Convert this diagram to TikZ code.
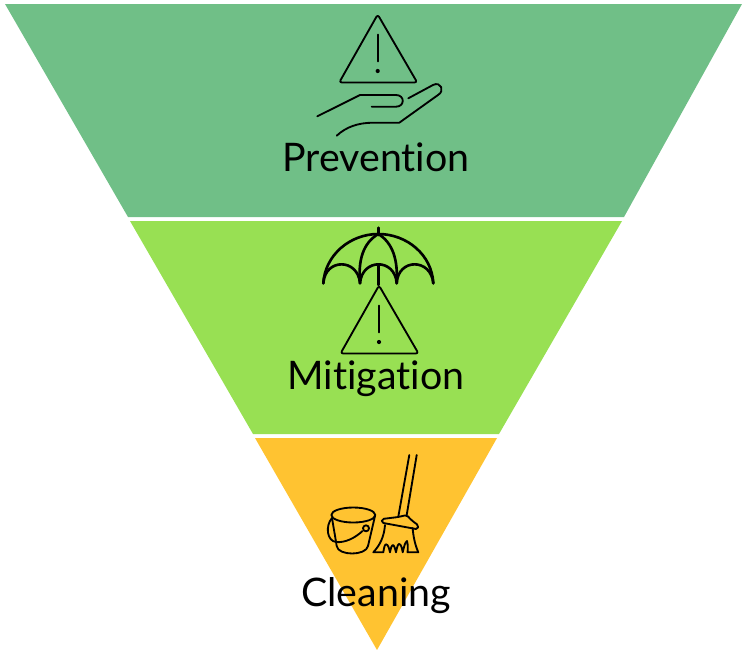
\documentclass[tikz,border=0pt]{standalone}
\usepackage{fontspec}
\setmainfont[Ligatures=NoCommon]{Lato}
\definecolor{preventgreen}{HTML}{70BF87}
\definecolor{mitigategreen}{HTML}{98E053}
\definecolor{cleanyellow}{HTML}{FFC331}

\begin{document}
\begin{tikzpicture}[
	x=0.02cm, y=-0.02cm,
	every node/.style={font=\fontsize{22.4}{26}\selectfont, text=black, anchor=base, inner sep=0pt},
	icon/.style={draw=black, line width=1.05pt, line cap=round, line join=round},
	iconthick/.style={icon, line width=1.5pt},
	warning/.pic={
		\draw[icon, rounded corners=1.5pt] (0,-3) -- (39.5,65) -- (-38.5,65) -- cycle;
		\draw[icon] (0,17) -- (0,44);
		\fill (0,53.5) circle (2.1);
	},
	]
	
	\useasboundingbox (0,0) rectangle (742,649);
	
	\fill[preventgreen] (5,4) -- (742,4) -- (624,217) -- (128,217) -- cycle;
	\fill[mitigategreen] (130,221) -- (622,221) -- (499,434) -- (253,434) -- cycle;
	\fill[cleanyellow] (255,438) -- (497,438) -- (377,650) -- cycle;
	
	% prevention icon
	\pic at (377.7,17.5) {warning};
	\draw[icon] (317.3,116.3) -- (360,95) -- (396,95) .. controls (405,95) and (405,106.7) .. (396,106.7) -- (371.7,106.7);
	\draw[icon] (408.3,98.3) -- (433,85) .. controls (441,81) and (445,91) .. (438,95) -- (399.3,122.7) -- (373.3,122.7) .. controls (358,122.7) and (346,127) .. (336.7,135.7);
	
	% mitigation icon
	\pic at (379,288.5) {warning};
	\draw[iconthick] (378.3,227.7) -- (378.3,235);
	\draw[iconthick] (323.3,283.3) .. controls (325,255) and (350,234) .. (378.3,234) .. controls (407,234) and (432,255) .. (433.3,283.3);
	\draw[iconthick] (323.3,283.3) .. controls (325,258) and (358,258) .. (360,283.3) .. controls (362,258) and (395,258) .. (396.7,283.3) .. controls (398,258) and (431,258) .. (433.3,283.3);
	\draw[iconthick] (360,283.3) .. controls (358,260) and (363,243) .. (378.3,234) .. controls (393,243) and (398,260) .. (396.7,283.3);
	\draw[iconthick] (378.3,265.7) -- (378.3,285);
	
	% cleaning icon
	\draw[icon] (353.3,515) ellipse (22 and 7.5);
	\draw[icon] (332,518) -- (336.7,546) .. controls (338,556) and (366,556) .. (368,546) -- (375,516);
	\draw[icon] (332,518) .. controls (325,526) and (327,541) .. (336,542) .. controls (345,543) and (355,538) .. (362.5,531);
	\draw[icon] (366,528.3) circle (3);
	\draw[icon] (409.3,455) -- (398.3,516.7);
	\draw[icon] (416.7,455) -- (406.7,515);
	\draw[icon, rounded corners=1pt] (381.7,522.7) -- (382,519) -- (398.3,517) -- (406.7,515) .. controls (411,520) and (415,523) .. (418.3,525) -- (417.7,529.3) -- cycle;
	\draw[icon] (385,525) .. controls (384,537) and (380,545) .. (373.3,552.3) -- (383.3,552.3) .. controls (384,547) and (385,544.3) .. (386,544.3) .. controls (388,544.3) and (389,548) .. (390,552.3) .. controls (391,547) and (392,545) .. (392.7,545) .. controls (394,545) and (395,548) .. (396,552.3) .. controls (397,547) and (398,544) .. (399,544) .. controls (401,544) and (402,548) .. (402.7,552.3) .. controls (404,547) and (405,542) .. (407,541) .. controls (408,545) and (408,549) .. (407.5,552.3) -- (418.3,552.3) .. controls (415,545) and (413,535) .. (412.7,528);
	
	\node (prevention) at (376,171) {Prevention};
	\node (mitigation) at (376,389) {Mitigation};
	\node (cleaning) at (376,606) {Cleaning};
	
\end{tikzpicture}
\end{document}
